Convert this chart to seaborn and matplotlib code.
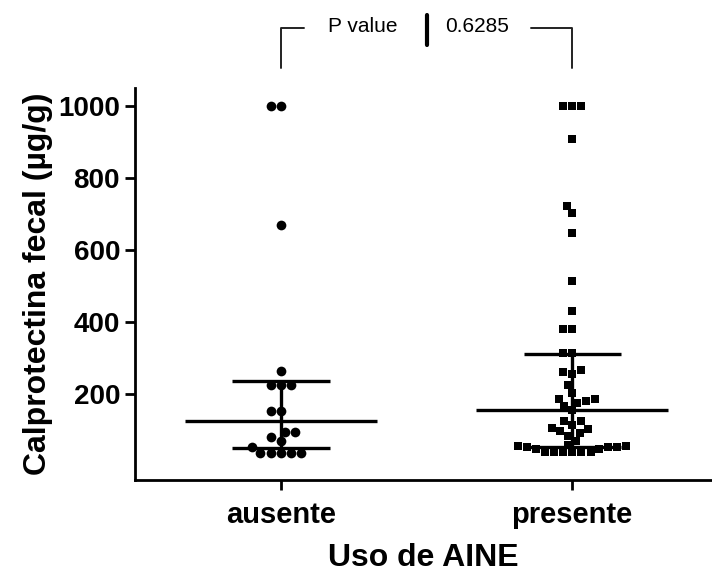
import numpy as np
import pandas as pd
import matplotlib
matplotlib.use('Agg')
import matplotlib.pyplot as plt
import seaborn as sns

# ---- data ----
categories = ['ausente', 'presente']

ausente_vals = [1000, 1000, 671, 264, 227, 227, 227, 153, 153, 97, 97, 81, 72, 54,
                38, 38, 38, 38, 38]
presente_vals = [1000, 1000, 1000, 908, 724, 704, 649, 515, 433, 382, 382, 314, 314,
                 262, 258, 268, 225, 204, 188, 188, 183, 177, 169, 156, 125, 125, 116,
                 106, 103, 98, 94, 86, 72, 61, 58, 58, 54, 54, 54, 49, 49,
                 40, 40, 40, 40, 40, 40]

# median and interquartile range as drawn
medians = [125, 158]
q1 = [51, 54]
q3 = [237, 313]

p_label = 'P value'
p_value = '0.6285'

df = pd.DataFrame({
    'grupo': ['ausente'] * len(ausente_vals) + ['presente'] * len(presente_vals),
    'valor': ausente_vals + presente_vals,
})

sns.set_style('ticks', {'axes.edgecolor': 'black', 'text.color': 'black',
                        'xtick.color': 'black', 'ytick.color': 'black',
                        'axes.labelcolor': 'black'})
plt.rcParams['font.family'] = ['Liberation Sans', 'DejaVu Sans']

fig = plt.figure(figsize=(7.12, 5.73), dpi=100)
ax = fig.add_axes([0.19, 0.162, 0.81, 0.684])

# dots: circles for ausente, squares for presente
sns.swarmplot(data=df[df['grupo'] == 'ausente'], x='grupo', y='valor', order=categories,
              color='black', marker='o', size=7, ax=ax)
sns.swarmplot(data=df[df['grupo'] == 'presente'], x='grupo', y='valor', order=categories,
              color='black', marker='s', size=6.3, ax=ax)

# median with interquartile range
pos = np.arange(len(categories))
ax.hlines(medians, pos - 0.33, pos + 0.33, color='black', lw=2.4, zorder=3)
ax.hlines(q1, pos - 0.167, pos + 0.167, color='black', lw=2.4, zorder=3)
ax.hlines(q3, pos - 0.167, pos + 0.167, color='black', lw=2.4, zorder=3)
ax.vlines(pos, q1, q3, color='black', lw=2.4, zorder=3)

ax.set_xlim(-0.5, 1.48)
ax.set_ylim(-38, 1050)
ax.set_yticks([200, 400, 600, 800, 1000])

sns.despine(ax=ax)
for s in ['left', 'bottom']:
    ax.spines[s].set_linewidth(2.0)
ax.tick_params(axis='both', width=2.0, length=7, colors='black')
ax.tick_params(axis='y', labelsize=20, pad=4)
ax.tick_params(axis='x', labelsize=21, pad=8)
for lab in ax.get_xticklabels() + ax.get_yticklabels():
    lab.set_fontweight('bold')

ax.set_xlabel('Uso de AINE', fontsize=23, fontweight='bold', labelpad=10)
ax.set_ylabel('Calprotectina fecal (µg/g)', fontsize=23, fontweight='bold', labelpad=4)

# p value bracket above the plot
ax.plot([0, 0, 0.08], [1106, 1217, 1217], color='#222222', lw=1.4, clip_on=False)
ax.plot([0.86, 1, 1], [1217, 1217, 1106], color='#222222', lw=1.4, clip_on=False)
ax.plot([0.5, 0.5], [1169, 1253], color='black', lw=3, clip_on=False)
ax.text(0.28, 1222, p_label, ha='center', va='center', fontsize=15)
ax.text(0.675, 1222, p_value, ha='center', va='center', fontsize=15)

fig.savefig('out.png', dpi=100)
